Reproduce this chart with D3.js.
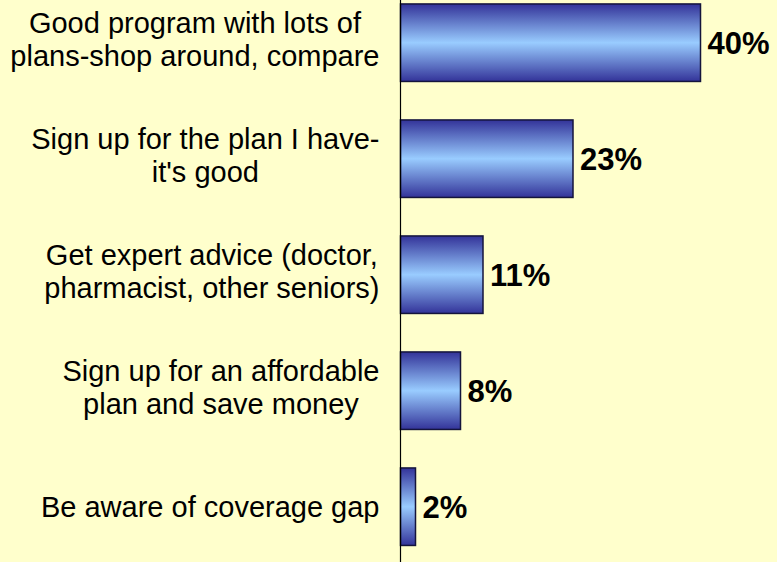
<!DOCTYPE html>
<html>
<head>
<meta charset="utf-8">
<script src="https://cdn.jsdelivr.net/npm/d3@7"></script>
<style>
  html, body { margin: 0; padding: 0; background: #FFFFCC; }
  svg { display: block; }
</style>
</head>
<body>
<svg id="chart" width="777" height="562"></svg>
<script>
const categories = [
  ["Good program with lots of", "plans-shop around, compare"],
  ["Sign up for the plan I have-", "it's good"],
  ["Get expert advice (doctor,", "pharmacist, other seniors)"],
  ["Sign up for an affordable", "plan and save money"],
  ["Be aware of coverage gap"]
];
const values = [40, 23, 11, 8, 2];
const valueLabels = ["40%", "23%", "11%", "8%", "2%"];

const W = 777, H = 562;
const svg = d3.select("#chart");

svg.append("rect").attr("width", W).attr("height", H).attr("fill", "#FFFFCC");

const defs = svg.append("defs");
const grad = defs.append("linearGradient")
  .attr("id", "barGrad").attr("x1", 0).attr("y1", 0).attr("x2", 0).attr("y2", 1);
grad.append("stop").attr("offset", "0%").attr("stop-color", "#333399");
grad.append("stop").attr("offset", "50%").attr("stop-color", "#99CCFF");
grad.append("stop").attr("offset", "100%").attr("stop-color", "#333399");

const idx = d3.range(values.length);
const y = d3.scaleBand().domain(idx).range([-15.3, 564.7]).paddingInner(0.332).paddingOuter(0.166);
const x = d3.scaleLinear().domain([0, 50]).range([400.5, 775.5]);

// bars
svg.selectAll("rect.bar").data(idx).enter().append("rect")
  .attr("class", "bar")
  .attr("x", x(0))
  .attr("y", i => y(i))
  .attr("width", i => x(values[i]) - x(0))
  .attr("height", y.bandwidth())
  .attr("fill", "url(#barGrad)")
  .attr("stroke", "#14143c")
  .attr("stroke-width", 1.5);

// axis line
svg.append("line")
  .attr("x1", x(0)).attr("x2", x(0))
  .attr("y1", 0).attr("y2", H)
  .attr("stroke", "#000").attr("stroke-width", 1.2);

// value labels
svg.selectAll("text.val").data(idx).enter().append("text")
  .attr("class", "val")
  .attr("x", i => x(values[i]) + 7)
  .attr("y", i => y(i) + y.bandwidth() / 2 + 11.5)
  .attr("font-family", "Liberation Sans, Arial, sans-serif")
  .attr("font-weight", "bold")
  .attr("font-size", "31px")
  .attr("fill", "#000")
  .text(i => valueLabels[i]);

// category labels: block right-aligned, lines centered inside block
const rightEdge = 379.5;
const lineH = 33;
idx.forEach(i => {
  const lines = categories[i];
  const n = lines.length;
  const cy = y(i) + y.bandwidth() / 2;
  const off = n === 1 ? 10 : 6.5;
  const g = svg.append("g");
  const texts = lines.map((s, k) => g.append("text")
    .attr("y", cy + (k - (n - 1) / 2) * lineH + off)
    .attr("font-family", "Liberation Sans, Arial, sans-serif")
    .attr("font-size", "29px")
    .attr("fill", "#000")
    .attr("text-anchor", "middle")
    .text(s));
  const maxW = d3.max(texts, t => t.node().getComputedTextLength());
  texts.forEach(t => t.attr("x", rightEdge - maxW / 2));
});
</script>
</body>
</html>
